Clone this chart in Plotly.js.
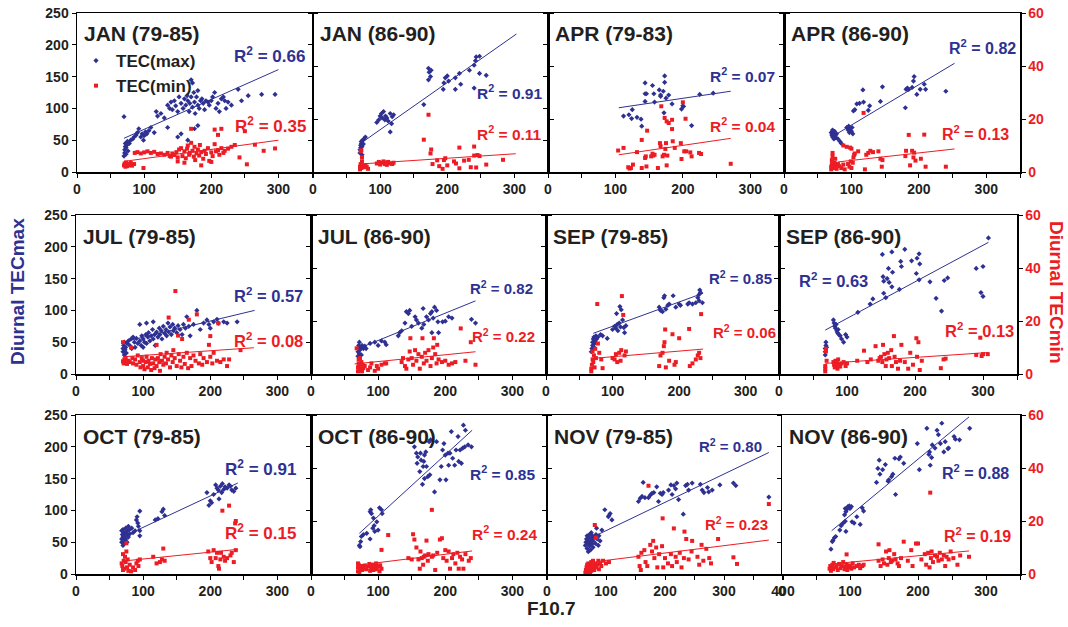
<!DOCTYPE html>
<html><head><meta charset="utf-8">
<script src="https://cdn.plot.ly/plotly-3.0.1.min.js"></script>
<style>html,body{margin:0;padding:0;background:#fff}#chart{width:1068px;height:627px}</style>
</head><body><div id="chart"></div>
<script>
// ---------------- DATA ----------------
const panelTitles = ['JAN (79-85)','JAN (86-90)','APR (79-83)','APR (86-90)',
                     'JUL (79-85)','JUL (86-90)','SEP (79-85)','SEP (86-90)',
                     'OCT (79-85)','OCT (86-90)','NOV (79-85)','NOV (86-90)'];
const r2Max = ['0.66','0.91','0.07','0.82','0.57','0.82','0.85','0.63','0.91','0.85','0.80','0.88'];
const r2Min = ['0.35','0.11','0.04','0.13','0.08','0.22','0.06','0.13','0.15','0.24','0.23','0.19'];
const xMax = [350,350,350,350,350,350,350,350,350,350,400,350];
const xTickLabels = ['0','100','200','300','400'];
const yLeftTicks = [0,50,100,150,200,250];
const yRightTicks = [0,20,40,60];

// TECmax (left axis) and TECmin (right axis) points: [F10.7, TEC]
const jan7985Max = [[70,87],[70,25],[71,30],[71,35],[72,40],[72,45],[73,28],[73,38],[74,42],[75,48],[76,33],[78,45],[80,50],[83,52],[85,55],[88,58],[90,62],[92,68],[95,55],[97,60],[99,50],[100,57],[102,63],[104,60],[107,65],[110,70],[115,62],[118,95],[120,88],[125,92],[130,85],[135,105],[138,100],[140,110],[142,98],[145,112],[147,104],[150,95],[152,118],[155,108],[158,100],[160,115],[162,105],[164,120],[165,112],[167,95],[168,108],[170,145],[170,118],[172,140],[172,102],[174,125],[175,110],[176,92],[178,118],[180,128],[180,105],[182,100],[184,112],[186,115],[188,108],[190,98],[192,112],[195,110],[197,105],[200,112],[202,118],[205,125],[207,100],[210,108],[212,95],[215,115],[218,118],[220,112],[222,100],[225,110],[230,105],[240,130],[245,112],[255,120],[275,122],[295,122],[150,55],[155,60],[165,50],[175,68],[180,73],[135,70]];
const jan7985Min = [[70,2.5],[71,3.2],[72,2.0],[73,3.6],[74,2.8],[75,2.2],[76,3.0],[78,2.6],[80,3.4],[82,2.4],[85,3.0],[99,1.5],[86,7.2],[90,7.5],[95,7.0],[100,7.4],[105,7.8],[110,7.2],[115,7.6],[120,6.8],[125,7.0],[130,6.5],[135,7.2],[138,6.0],[140,5.8],[142,7.0],[145,6.4],[148,7.5],[150,5.5],[152,8.5],[155,9.0],[157,6.0],[160,7.8],[162,5.2],[164,8.8],[165,10.0],[167,6.5],[168,7.2],[170,11.0],[170,16.3],[172,8.0],[174,5.8],[175,9.5],[176,4.5],[178,7.0],[180,8.5],[182,6.2],[183,10.2],[185,7.5],[188,5.0],[190,8.0],[192,6.8],[195,9.0],[197,4.2],[200,7.4],[202,6.0],[205,16.0],[205,10.5],[207,7.8],[210,14.0],[210,8.2],[212,6.5],[215,16.3],[215,9.0],[218,7.2],[220,8.0],[225,8.8],[230,9.5],[235,10.2],[242,5.5],[250,15.4],[253,2.9],[265,10.3],[278,8.0],[295,8.9],[150,4.0],[160,3.5],[185,2.5],[200,3.8]];

const jan8690Max = [[70,30],[70,35],[71,38],[71,42],[72,45],[72,48],[73,40],[74,50],[75,44],[76,52],[78,55],[73,27],[95,78],[98,82],[100,88],[102,92],[103,85],[105,95],[107,82],[108,88],[110,85],[112,80],[115,92],[118,87],[120,90],[115,63],[117,76],[165,106],[172,163],[173,157],[175,150],[172,145],[176,160],[194,130],[195,140],[197,148],[200,151],[202,143],[212,130],[212,148],[218,155],[220,138],[233,160],[240,168],[242,175],[243,181],[248,182],[248,155],[258,152],[240,132]];
const jan8690Min = [[70,1.0],[70,2.0],[71,3.0],[72,1.5],[73,4.0],[74,2.5],[72,8.2],[71,7.8],[75,2.0],[73,5.5],[76,1.8],[78,2.6],[80,2.0],[82,1.2],[95,3.2],[98,3.8],[100,2.8],[102,3.5],[105,4.0],[107,3.0],[108,3.6],[110,2.7],[112,3.8],[115,3.2],[118,3.0],[120,3.5],[165,12.2],[172,21.6],[175,7.0],[176,8.5],[178,3.0],[185,4.4],[188,2.2],[193,1.2],[195,4.5],[197,5.2],[200,2.5],[210,4.0],[213,3.2],[218,9.2],[218,1.4],[225,4.3],[232,4.6],[235,1.8],[240,9.6],[240,6.2],[243,1.7],[245,6.4],[248,6.0],[258,2.8],[283,4.6]];

const apr7983Max = [[112,88],[120,90],[125,98],[124,84],[132,86],[138,83],[139,72],[144,140],[144,123],[146,123],[144,111],[155,136],[157,123],[158,110],[165,129],[167,119],[167,121],[171,127],[173,141],[173,151],[172,93],[175,116],[179,121],[184,107],[198,99],[200,104],[201,103],[213,73],[225,122],[245,124]];
const apr7983Min = [[104,8.1],[112,9.1],[119,1.8],[121,1.3],[123,1.5],[126,2.8],[132,7.5],[139,12.1],[139,1.5],[144,5.3],[145,5.9],[146,2.1],[147,15.6],[153,5.9],[155,6.9],[156,6.2],[158,6.5],[163,1.5],[166,10.9],[167,9.7],[168,24.8],[170,5.9],[172,6.5],[173,20.4],[174,8.7],[175,10.9],[176,19.1],[176,2.5],[177,6.2],[179,18.5],[184,19.7],[185,11.6],[184,16.2],[188,9.1],[197,10.9],[198,4.9],[200,26.3],[202,7.8],[204,20.1],[205,7.8],[211,7.4],[213,5.9],[224,7.2],[227,6.8],[271,3.1]];

const apr8690Max = [[70,62],[71,58],[72,55],[73,60],[74,52],[75,64],[76,57],[77,54],[78,60],[72,66],[80,52],[83,48],[85,45],[93,70],[95,66],[96,72],[97,62],[98,68],[100,64],[101,70],[102,60],[103,96],[105,98],[108,107],[112,108],[117,129],[118,110],[125,97],[127,104],[143,111],[146,134],[180,101],[181,130],[183,132],[185,130],[190,133],[192,143],[193,150],[197,122],[202,130],[208,138],[210,130],[240,127]];
const apr8690Min = [[70,1.0],[70,2.0],[71,3.0],[71,4.5],[72,6.0],[72,7.2],[73,1.5],[74,2.5],[75,3.5],[76,5.0],[77,2.0],[78,1.2],[80,3.0],[82,2.2],[85,1.5],[88,2.8],[90,1.0],[88,10.0],[93,9.5],[98,9.2],[100,8.8],[95,3.0],[97,2.0],[99,4.0],[100,1.5],[102,3.5],[103,5.5],[104,6.5],[105,7.0],[110,7.8],[118,22.3],[120,1.0],[122,6.5],[125,7.2],[128,8.0],[132,7.5],[140,7.8],[143,5.0],[145,2.0],[146,4.5],[180,6.0],[181,8.0],[185,14.0],[187,2.5],[190,8.0],[192,5.5],[193,7.3],[195,4.3],[203,5.0],[208,14.1],[210,2.0],[240,2.0]];

const jul7985Max = [[70,35],[70,40],[71,45],[72,30],[72,50],[73,38],[74,42],[75,33],[76,48],[78,52],[80,45],[82,55],[83,40],[85,58],[87,50],[88,42],[90,56],[92,48],[95,52],[97,45],[98,60],[100,55],[100,42],[102,50],[104,62],[105,48],[107,58],[108,65],[110,52],[112,60],[114,70],[115,55],[117,62],[118,45],[120,66],[122,58],[124,72],[125,62],[127,68],[128,55],[130,75],[132,64],[134,70],[135,60],[137,80],[138,66],[140,74],[142,62],[144,78],[145,68],[147,72],[150,65],[152,76],[155,70],[158,62],[160,78],[163,72],[165,90],[168,75],[170,60],[175,78],[180,100],[185,70],[190,80],[195,85],[198,78],[200,72],[205,82],[210,86],[212,80],[220,82],[225,80],[240,82],[95,78],[105,80],[115,82]];
const jul7985Min = [[70,12],[70,4.8],[71,4.0],[72,5.5],[73,4.2],[74,6.0],[75,4.5],[76,3.8],[78,5.0],[80,4.5],[82,10.0],[84,6.0],[85,4.0],[88,5.5],[90,3.5],[92,7.0],[95,4.5],[96,2.5],[98,6.0],[100,3.0],[100,5.0],[102,1.8],[104,4.5],[105,6.5],[107,2.5],[108,5.0],[110,3.8],[112,1.5],[113,6.0],[115,4.0],[117,2.2],[118,5.5],[120,11.0],[120,3.0],[122,6.0],[124,4.5],[125,1.2],[126,7.5],[128,5.0],[130,3.5],[132,6.5],[134,4.0],[135,8.0],[137,5.5],[138,21.3],[140,2.5],[142,7.0],[144,4.5],[145,9.0],[147,6.0],[148,31.3],[150,3.0],[152,14.5],[153,7.5],[155,5.0],[157,2.5],[158,13.2],[160,6.5],[162,3.8],[165,8.0],[167,2.2],[168,20.5],[170,6.0],[172,3.0],[175,7.0],[178,5.0],[180,22.5],[183,4.0],[185,7.5],[188,3.5],[190,6.0],[195,4.5],[198,11.0],[200,14.3],[200,6.5],[203,4.0],[205,8.0],[210,5.0],[212,19.1],[215,4.5],[220,5.5],[225,3.0],[228,5.5],[245,9.0]];

const jul8690Max = [[70,28],[70,35],[71,40],[71,45],[72,32],[72,50],[73,38],[74,42],[75,30],[76,45],[78,40],[80,44],[82,40],[88,48],[95,50],[100,45],[105,52],[110,50],[112,46],[130,60],[132,65],[135,68],[140,80],[142,98],[147,100],[145,95],[150,75],[155,90],[157,85],[160,80],[165,72],[167,103],[168,78],[172,90],[175,85],[178,95],[180,98],[182,88],[184,105],[187,100],[189,82],[190,65],[196,82],[200,83],[205,90],[210,88],[239,86],[245,80],[180,65]];
const jul8690Min = [[68,9.7],[70,1.0],[70,2.5],[71,4.0],[71,5.5],[72,1.5],[72,3.0],[73,6.0],[74,2.0],[75,4.5],[76,1.0],[77,3.5],[78,2.2],[80,3.0],[85,1.5],[88,2.5],[90,4.0],[95,1.2],[98,3.0],[100,2.0],[105,3.5],[110,4.0],[112,4.0],[135,4.5],[137,6.0],[140,3.0],[142,2.0],[145,5.5],[147,8.5],[148,13.5],[150,6.0],[152,3.5],[155,9.0],[157,5.0],[160,7.5],[162,2.0],[165,6.5],[166,13.5],[168,4.0],[170,8.0],[172,5.0],[175,9.0],[178,3.0],[180,6.0],[182,10.0],[183,13.5],[185,7.5],[187,4.0],[188,11.0],[190,5.5],[195,4.5],[200,5.0],[205,3.5],[210,4.0],[215,4.5],[223,17.2],[230,5.0],[238,12.0],[245,3.5]];

const sep7985Max = [[68,35],[69,40],[70,45],[70,50],[71,55],[72,42],[72,58],[73,48],[74,52],[75,60],[76,55],[78,58],[82,62],[85,60],[92,56],[100,70],[103,75],[105,72],[106,95],[107,78],[108,68],[110,80],[111,106],[112,74],[113,101],[115,85],[117,73],[118,65],[120,76],[170,105],[172,100],[175,98],[177,120],[178,123],[180,102],[183,108],[185,110],[191,123],[195,105],[200,110],[202,108],[213,110],[215,112],[220,110],[225,112],[228,120],[230,125],[231,132],[232,128],[230,115],[235,112]];
const sep7985Min = [[68,1.0],[68,2.0],[69,3.5],[70,5.5],[70,8.5],[71,4.5],[72,7.0],[73,2.5],[74,9.5],[75,6.0],[77,26.4],[78,11.5],[80,8.0],[83,5.5],[85,2.2],[100,6.0],[103,5.5],[105,7.5],[107,4.5],[110,8.0],[112,5.0],[113,9.0],[114,29.4],[116,22.3],[118,7.0],[120,8.5],[170,3.0],[172,7.0],[175,8.0],[177,10.5],[178,12.0],[179,16.8],[180,2.5],[185,5.0],[190,15.0],[193,3.5],[195,4.5],[200,13.5],[215,17.0],[216,3.0],[220,4.0],[225,5.5],[228,7.0],[230,8.0],[232,6.0],[233,22.6]];

const sep8690Max = [[68,30],[68,35],[68,40],[69,45],[69,50],[70,42],[80,85],[81,80],[82,75],[83,72],[84,78],[85,68],[86,65],[87,70],[88,62],[90,60],[92,55],[95,50],[98,62],[100,58],[116,97],[134,110],[138,118],[152,188],[166,192],[185,196],[195,178],[203,182],[206,189],[207,173],[179,177],[180,169],[161,166],[167,160],[159,150],[162,144],[166,137],[153,153],[154,146],[154,127],[157,120],[177,133],[202,158],[206,148],[222,145],[231,119],[239,99],[243,147],[248,151],[290,166],[300,169],[297,128],[300,122],[308,214]];
const sep8690Min = [[68,1.0],[68,2.0],[68,3.0],[69,8.5],[69,9.5],[70,5.0],[80,4.5],[81,3.5],[82,2.5],[83,5.0],[84,3.0],[85,4.2],[86,2.0],[87,5.5],[88,3.5],[90,2.8],[92,4.0],[95,4.5],[98,3.0],[100,4.0],[115,5.0],[125,8.8],[130,4.5],[135,5.5],[142,10.5],[146,5.0],[148,6.0],[150,6.5],[152,4.5],[153,11.0],[155,7.5],[157,3.0],[158,5.5],[160,8.0],[162,6.0],[165,9.0],[166,3.0],[169,14.3],[170,6.5],[172,4.5],[175,2.0],[178,5.0],[180,11.0],[185,4.5],[190,2.0],[193,8.0],[197,3.5],[202,13.5],[203,6.5],[205,12.0],[207,1.5],[210,5.0],[238,2.2],[242,5.5],[245,5.8],[290,7.2],[296,13.7],[298,6.8],[300,7.5],[307,7.5]];

const oct7985Max = [[68,50],[68,55],[68,68],[69,62],[70,45],[70,58],[70,70],[71,52],[72,65],[72,48],[73,60],[74,55],[74,72],[75,66],[76,50],[76,62],[77,68],[78,58],[78,75],[80,63],[80,70],[83,72],[85,65],[88,68],[90,85],[91,90],[92,80],[93,75],[95,99],[95,68],[95,60],[118,85],[122,87],[128,98],[130,102],[132,92],[195,128],[198,108],[200,115],[202,112],[205,125],[208,140],[210,135],[212,132],[213,118],[215,138],[217,128],[218,142],[220,133],[222,137],[225,135],[228,140],[230,138],[232,132],[235,130],[238,135]];
const oct7985Min = [[68,4.0],[69,3.0],[70,7.5],[70,1.5],[71,5.0],[72,2.0],[73,6.5],[74,4.5],[75,8.5],[75,11.6],[76,2.5],[77,5.5],[78,1.2],[80,3.5],[82,1.0],[85,2.5],[88,1.5],[90,4.0],[92,5.0],[93,3.0],[95,5.5],[115,6.5],[120,4.0],[125,4.5],[128,5.5],[130,9.6],[132,5.0],[197,8.5],[200,6.0],[202,4.5],[205,9.0],[208,6.0],[210,8.0],[212,3.0],[213,2.0],[215,5.5],[216,8.0],[218,23.9],[220,6.5],[222,5.0],[225,6.0],[228,25.8],[230,7.0],[232,8.0],[235,4.5],[237,19.1],[238,20.0],[238,9.0]];

const oct8690Max = [[72,45],[74,51],[75,59],[78,62],[83,64],[88,55],[88,98],[89,101],[90,95],[92,72],[93,88],[94,76],[95,67],[98,82],[100,69],[102,104],[105,101],[106,95],[73,43],[154,200],[157,190],[158,174],[159,184],[162,161],[163,190],[164,179],[167,169],[168,177],[169,187],[171,192],[172,169],[174,153],[169,150],[166,141],[177,156],[176,208],[178,211],[184,129],[187,208],[192,148],[194,169],[196,195],[198,205],[200,187],[201,148],[204,190],[205,171],[207,190],[209,224],[211,182],[214,171],[216,195],[219,216],[220,177],[222,195],[224,174],[226,198],[227,234],[229,200],[230,226],[234,203],[239,200]];
const oct8690Min = [[70,1.0],[70,2.5],[71,3.5],[72,0.8],[73,2.0],[75,3.0],[76,1.5],[78,2.5],[80,3.2],[82,1.8],[85,2.8],[87,3.8],[88,1.2],[90,2.5],[92,3.5],[93,1.5],[95,2.2],[96,3.0],[97,4.0],[98,1.8],[100,2.8],[102,1.0],[103,3.3],[105,2.0],[70,4.0],[105,9.1],[115,14.7],[145,6.0],[150,5.5],[152,15.0],[154,13.0],[157,10.0],[160,5.5],[162,2.0],[163,8.5],[165,6.0],[167,3.5],[168,6.5],[170,7.0],[172,12.6],[174,5.0],[175,7.5],[180,24.2],[180,6.5],[182,7.0],[185,1.5],[188,8.0],[192,13.0],[195,13.5],[197,6.0],[200,9.0],[202,5.0],[205,8.5],[207,2.0],[210,6.0],[212,7.5],[215,4.0],[218,8.0],[220,2.0],[222,6.5],[225,5.5],[227,2.0],[230,7.5],[235,5.0],[238,6.0]];

const nov7985Max = [[65,45],[66,50],[67,55],[68,40],[68,60],[69,48],[70,52],[70,35],[71,58],[72,44],[72,62],[73,50],[74,38],[75,55],[75,65],[76,47],[77,60],[78,42],[78,52],[80,58],[82,48],[83,62],[85,55],[87,45],[88,60],[90,52],[93,69],[84,72],[98,101],[104,90],[107,95],[110,85],[105,92],[155,114],[158,119],[161,122],[166,120],[172,120],[175,124],[178,127],[181,128],[186,137],[189,114],[192,127],[195,125],[197,128],[206,132],[210,140],[212,125],[215,139],[218,134],[220,143],[223,117],[231,94],[235,139],[238,141],[240,132],[246,143],[260,141],[263,132],[266,128],[272,136],[274,129],[280,132],[293,140],[316,143],[320,139],[376,121],[163,144]];
const nov7985Min = [[65,0.5],[66,1.5],[67,2.5],[68,1.0],[68,3.5],[69,2.0],[70,0.8],[70,4.0],[71,1.8],[72,3.0],[73,0.5],[74,2.2],[75,4.5],[75,1.2],[76,3.5],[77,2.0],[78,5.0],[80,1.5],[80,3.0],[82,4.0],[83,2.5],[85,3.5],[87,5.0],[88,1.8],[90,4.0],[92,3.0],[95,5.0],[100,4.0],[105,4.5],[83,13.7],[81,18.5],[155,6.5],[157,3.0],[159,1.5],[160,8.0],[165,9.0],[167,4.5],[170,3.0],[172,33.3],[175,11.0],[178,8.5],[180,12.5],[182,6.0],[185,10.0],[187,2.5],[190,7.5],[196,21.0],[195,10.5],[197,2.5],[200,6.0],[205,4.0],[210,7.5],[212,3.0],[215,17.2],[218,6.5],[220,4.5],[225,8.0],[228,2.5],[233,16.0],[232,6.0],[236,13.2],[240,5.5],[245,8.5],[246,12.5],[255,6.5],[258,3.5],[262,11.0],[265,5.0],[270,9.5],[275,6.0],[278,4.0],[290,13.2],[316,6.3],[322,3.8],[376,26.4]];

const nov8690Max = [[72,39],[74,51],[75,53],[77,57],[79,59],[85,69],[87,76],[90,80],[93,83],[92,93],[94,98],[93,103],[95,101],[97,106],[99,107],[100,103],[102,106],[103,82],[106,80],[110,90],[115,78],[118,104],[120,99],[94,67],[139,144],[141,166],[143,179],[144,157],[148,164],[152,172],[156,146],[157,148],[161,153],[163,157],[166,182],[167,125],[172,181],[174,184],[179,174],[199,205],[202,164],[213,229],[216,188],[217,192],[218,171],[220,183],[221,203],[225,198],[228,226],[230,219],[233,205],[238,192],[240,208],[244,197],[245,198],[253,216],[255,212],[261,211],[276,229],[235,237]];
const nov8690Min = [[70,2.0],[71,3.0],[72,1.2],[73,2.5],[74,3.5],[75,1.8],[76,4.2],[78,2.5],[80,3.0],[82,1.5],[84,3.8],[86,2.2],[88,3.0],[90,4.5],[92,1.8],[93,2.8],[95,7.4],[95,3.5],[96,1.5],[98,2.5],[100,3.2],[102,2.0],[104,4.0],[106,2.5],[110,3.0],[113,3.5],[115,2.2],[118,3.0],[120,3.5],[142,5.0],[142,11.2],[145,3.0],[148,5.5],[150,4.0],[153,8.5],[155,3.5],[157,6.0],[158,9.0],[160,4.5],[162,5.0],[165,7.5],[167,5.5],[170,4.0],[172,3.0],[175,6.0],[179,12.2],[185,5.0],[190,9.0],[192,3.0],[197,11.5],[200,11.5],[205,5.5],[210,7.5],[212,3.5],[215,8.0],[217,2.5],[218,30.7],[219,6.0],[220,8.5],[222,4.5],[225,7.0],[228,6.5],[230,5.0],[232,8.0],[235,5.5],[238,7.0],[240,3.0],[242,6.5],[245,5.5],[248,8.5],[252,6.0],[258,3.5],[262,7.0],[275,6.5]];

// Linear trend lines: [F10.7 start, TEC start, F10.7 end, TEC end]
const trendMax = [[70,53,300,161],[75,48,303,217],[105,101,271,127],[80,61,253,171],
                  [73,51,266,100],[68,39,245,115],[71,64,236,127],[68,69,308,207],
                  [71,59,241,143],[72,64,240,226],[84,61,376,191],[73,68,275,247]];
const trendMin = [[70,4.0,300,12.0],[75,3.1,302,6.9],[105,6.5,271,12.7],[80,3.8,253,8.7],
                  [70,6.5,265,9.9],[65,3.8,245,8.4],[71,5.9,236,9.4],[68,4.0,308,8.1],
                  [71,4.9,241,9.3],[72,3.4,240,8.7],[84,4.7,376,12.8],[73,3.8,275,8.7]];

const panelsMax = [jan7985Max,jan8690Max,apr7983Max,apr8690Max,jul7985Max,jul8690Max,
                   sep7985Max,sep8690Max,oct7985Max,oct8690Max,nov7985Max,nov8690Max];
const panelsMin = [jan7985Min,jan8690Min,apr7983Min,apr8690Min,jul7985Min,jul8690Min,
                   sep7985Min,sep8690Min,oct7985Min,oct8690Min,nov7985Min,nov8690Min];

// ---------------- LAYOUT (pixels) ----------------
const W = 1068, H = 627;
const BLUE = '#2e3192', RED = '#ed1c24', INK = '#231f20';
const FONT = 'Liberation Sans, Arial, sans-serif';
const rowsPx = [[13,172],[215,374],[415,574]];
const colsPx = [
  [[77,312],[313,548],[548,784],[784,1020]],
  [[76,311],[311,546],[546,779],[779,1017]],
  [[76,311],[311,546],[547,783],[782,1020]]
];
const r2MaxPos = [[232,55],[475,92],[708,75],[947,47],[232,295],[468,288],[707,278],[797,280],[223,468],[468,473],[697,445],[940,472]];
const r2MinPos = [[233,125],[475,133],[708,125],[940,133],[232,340],[470,335],[711,332],[943,330],[223,532],[470,533],[703,523],[942,535]];
const r2FontSize = [17,15.5,15.5,16,16.5,15,15,16.5,17,15.5,15,16];

const px = v => v / W;
const py = v => 1 - v / H;

const traces = [];
const layout = {
  width: W, height: H,
  margin: {l:0, r:0, t:0, b:0},
  paper_bgcolor: '#fff', plot_bgcolor: '#fff',
  showlegend: true,
  legend: {x: px(76), y: py(43), xanchor:'left', yanchor:'top', bgcolor:'rgba(0,0,0,0)',
           font:{family:FONT, size:17, color:INK, weight:'bold'}, tracegroupgap:0},
  annotations: [],
  font: {family: FONT}
};

const tickFont = {family:FONT, size:14, color:INK, weight:'bold'};

for (let i = 0; i < 12; i++) {
  const r = Math.floor(i / 4), c = i % 4;
  const n = i + 1, nr = i + 13;
  const xa = 'xaxis' + (n === 1 ? '' : n), ya = 'yaxis' + (n === 1 ? '' : n), yr = 'yaxis' + nr;
  const xid = 'x' + (n === 1 ? '' : n), yid = 'y' + (n === 1 ? '' : n), yrid = 'y' + nr;
  const [x0, x1] = colsPx[r][c];
  const [t0, b0] = rowsPx[r];

  const tv = [], tt = [];
  for (let v = 0; v <= xMax[i]; v += 50) { tv.push(v); tt.push(v % 100 === 0 ? xTickLabels[v/100] : ''); }

  layout[xa] = {domain:[px(x0), px(x1)], range:[0, xMax[i]], anchor: yid,
    tickmode:'array', tickvals: tv, ticktext: tt, ticks:'outside', ticklen:4, tickwidth:1, tickcolor:'#000',
    showline:true, linecolor:'#000', linewidth:1.5, mirror:true, showgrid:false, zeroline:false,
    tickfont: tickFont, fixedrange:true};
  layout[ya] = {domain:[py(b0), py(t0)], range:[0,250], anchor: xid,
    tickmode:'array', tickvals: yLeftTicks, ticks:'outside', ticklen:4, tickwidth:1, tickcolor:'#000',
    showticklabels: c === 0, showline:true, linecolor:'#000', linewidth:1.5, showgrid:false, zeroline:false,
    tickfont: tickFont, fixedrange:true};
  layout[yr] = {overlaying: yid, side:'right', anchor: xid, range:[0,60],
    tickmode:'array', tickvals: yRightTicks, ticks:'outside', ticklen:4, tickwidth:1, tickcolor:'#000',
    showticklabels: c === 3, showline:true, linecolor:'#000', linewidth:1.5, showgrid:false, zeroline:false,
    tickfont: {family:FONT, size:14, color:RED, weight:'bold'}, fixedrange:true};

  // trend lines
  const tM = trendMax[i], tm = trendMin[i];
  traces.push({type:'scatter', mode:'lines', x:[tM[0], tM[2]], y:[tM[1], tM[3]], xaxis:xid, yaxis:yid,
    line:{color:BLUE, width:1}, showlegend:false, hoverinfo:'skip'});
  traces.push({type:'scatter', mode:'lines', x:[tm[0], tm[2]], y:[tm[1], tm[3]], xaxis:xid, yaxis:yrid,
    line:{color:RED, width:1}, showlegend:false, hoverinfo:'skip'});
  // points
  traces.push({type:'scatter', mode:'markers', name:'TEC(max)',
    x: panelsMax[i].map(p => p[0]), y: panelsMax[i].map(p => p[1]), xaxis:xid, yaxis:yid,
    marker:{symbol:'diamond', size:4, color:BLUE}, showlegend: i === 0});
  traces.push({type:'scatter', mode:'markers', name:'TEC(min)',
    x: panelsMin[i].map(p => p[0]), y: panelsMin[i].map(p => p[1]), xaxis:xid, yaxis:yrid,
    marker:{symbol:'square', size:4, color:RED}, showlegend: i === 0});

  // panel title
  layout.annotations.push({xref:'paper', yref:'paper', x: px(x0 + 5), y: py(t0 + 21), xanchor:'left', yanchor:'middle',
    text: panelTitles[i], showarrow:false, font:{family:FONT, size:21, color:INK, weight:'bold'}});
  // R² labels
  layout.annotations.push({xref:'paper', yref:'paper', x: px(r2MaxPos[i][0]), y: py(r2MaxPos[i][1]), xanchor:'left', yanchor:'middle',
    text: 'R<sup>2</sup> = ' + r2Max[i], showarrow:false, font:{family:FONT, size:r2FontSize[i], color:BLUE, weight:'bold'}});
  layout.annotations.push({xref:'paper', yref:'paper', x: px(r2MinPos[i][0]), y: py(r2MinPos[i][1]), xanchor:'left', yanchor:'middle',
    text: 'R<sup>2</sup> = ' + r2Min[i], showarrow:false, font:{family:FONT, size:r2FontSize[i], color:RED, weight:'bold'}});
}

// axis titles
layout.annotations.push({xref:'paper', yref:'paper', x: px(17), y: py(292), textangle:-90, xanchor:'center', yanchor:'middle',
  text:'Diurnal TECmax', showarrow:false, font:{family:FONT, size:19, color:BLUE, weight:'bold'}});
layout.annotations.push({xref:'paper', yref:'paper', x: px(1057), y: py(292), textangle:90, xanchor:'center', yanchor:'middle',
  text:'Diurnal TECmin', showarrow:false, font:{family:FONT, size:19, color:RED, weight:'bold'}});
layout.annotations.push({xref:'paper', yref:'paper', x: px(551), y: py(608), xanchor:'center', yanchor:'middle',
  text:'F10.7', showarrow:false, font:{family:FONT, size:19, color:INK, weight:'bold'}});

Plotly.newPlot('chart', traces, layout, {staticPlot:true, displayModeBar:false});
</script>
</body></html>
